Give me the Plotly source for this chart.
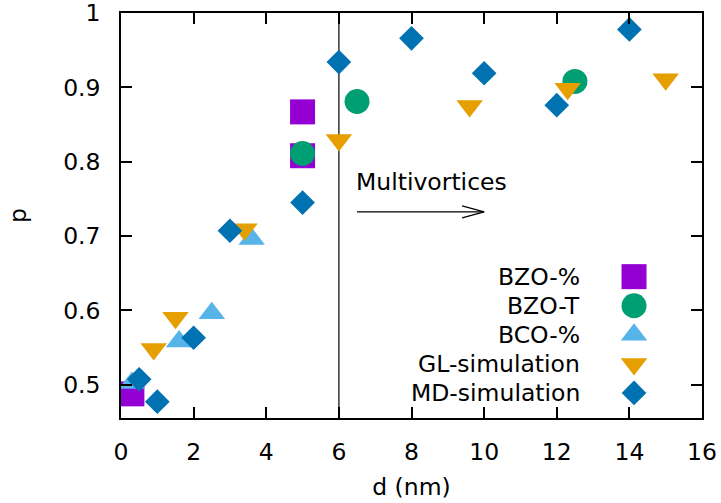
import plotly.graph_objects as go

# ---- data ----
bzo_pct_d = [0.3, 5.0, 5.0]
bzo_pct_p = [0.4875, 0.867, 0.808]

bzo_t_d = [5.0, 6.5, 12.5]
bzo_t_p = [0.811, 0.881, 0.908]

bco_pct_d = [0.3, 1.6, 2.5, 3.6]
bco_pct_p = [0.502, 0.558, 0.596, 0.696]

gl_d = [0.9, 1.5, 3.4, 6.0, 9.6, 12.3, 15.0]
gl_p = [0.548, 0.590, 0.709, 0.829, 0.875, 0.898, 0.911]

md_d = [0.5, 1.0, 2.0, 3.0, 5.0, 6.0, 8.0, 10.0, 12.0, 14.0]
md_p = [0.507, 0.477, 0.563, 0.707, 0.745, 0.934, 0.966, 0.919, 0.876, 0.978]

series_names = ["BZO-%", "BZO-T", "BCO-%", "GL-simulation", "MD-simulation"]
x_ticks = [0, 2, 4, 6, 8, 10, 12, 14, 16]
y_ticks = [0.5, 0.6, 0.7, 0.8, 0.9, 1.0]
y_tick_text = ["0.5", "0.6", "0.7", "0.8", "0.9", "1"]

threshold_d = 6.0
arrow_start_d, arrow_end_d, arrow_p = 6.5, 10.0, 0.7325
label_text = "Multivortices"
label_p = 0.772

# ---- styles ----
FONT = "DejaVu Sans"
FS = 23.5
styles = [
    dict(symbol="square", size=25, color="#9400d3"),
    dict(symbol="circle", size=25, color="#009e73"),
    dict(symbol="triangle-up", size=23, color="#56b4e9"),
    dict(symbol="triangle-down", size=23, color="#e69f00"),
    dict(symbol="diamond", size=19, color="#0072b2"),
]
data = [(bzo_pct_d, bzo_pct_p), (bzo_t_d, bzo_t_p), (bco_pct_d, bco_pct_p),
        (gl_d, gl_p), (md_d, md_p)]

fig = go.Figure()
for (xs, ys), name, st in zip(data, series_names, styles):
    fig.add_trace(go.Scatter(
        x=xs, y=ys, mode="markers", name=name, showlegend=False,
        marker=dict(symbol=st["symbol"], size=st["size"], color=st["color"],
                    line=dict(width=0)),
        cliponaxis=False,
    ))

# custom legend (text right-aligned, symbol on the right)
leg_text_x = 0.793
leg_mark_x = 0.883
leg_top = 0.349
leg_step = 0.0718
for i, (name, st) in enumerate(zip(series_names, styles)):
    yy = leg_top - i * leg_step
    fig.add_annotation(x=leg_text_x, y=yy, xref="paper", yref="paper",
                       text=name, showarrow=False, xanchor="right",
                       yanchor="middle", font=dict(family=FONT, size=FS, color="black"))
    fig.add_trace(go.Scatter(
        x=[leg_mark_x], y=[yy], xaxis="x2", yaxis="y2", mode="markers",
        showlegend=False, hoverinfo="skip",
        marker=dict(symbol=st["symbol"], size=st["size"], color=st["color"],
                    line=dict(width=0)),
        cliponaxis=False,
    ))

# vertical threshold line
fig.add_shape(type="line", xref="x", yref="paper", x0=threshold_d, x1=threshold_d,
              y0=0, y1=1, line=dict(color="#333333", width=1.5), layer="below")

# arrow shaft
fig.add_shape(type="line", xref="x", yref="y", x0=arrow_start_d, x1=arrow_end_d,
              y0=arrow_p, y1=arrow_p, line=dict(color="black", width=1.2))
# arrow head (open V)
for dy in (6, -6):
    fig.add_shape(type="line", xref="x", yref="y",
                  xsizemode="pixel", ysizemode="pixel",
                  xanchor=arrow_end_d, yanchor=arrow_p,
                  x0=0, x1=-22, y0=0, y1=dy,
                  line=dict(color="black", width=1.2))

fig.add_annotation(x=arrow_start_d, y=label_p, xref="x", yref="y", text=label_text,
                   showarrow=False, xanchor="left", yanchor="middle",
                   xshift=-3, font=dict(family=FONT, size=FS, color="black"))

axis_common = dict(
    showline=True, linecolor="black", linewidth=1.5, mirror="allticks",
    ticks="inside", ticklen=11, tickwidth=1.5, tickcolor="black",
    showgrid=False, zeroline=False, automargin=False,
    ticklabeloverflow="allow",
    tickfont=dict(family=FONT, size=FS, color="black"),
)

fig.update_layout(
    width=721, height=503,
    margin=dict(l=121, r=19, t=13, b=85),
    paper_bgcolor="white", plot_bgcolor="white",
    font=dict(family=FONT, size=FS, color="black"),
    xaxis=dict(range=[0, 16], tickvals=x_ticks, ticklabelstandoff=12,
               title=dict(text="d (nm)", font=dict(family=FONT, size=FS), standoff=14),
               **axis_common),
    yaxis=dict(range=[0.455, 1.0001], tickvals=y_ticks, ticktext=y_tick_text,
               ticklabelstandoff=14,
               title=dict(text="p", font=dict(family=FONT, size=FS), standoff=30),
               **axis_common),
    xaxis2=dict(overlaying="x", range=[0, 1], visible=False),
    yaxis2=dict(overlaying="y", range=[0, 1], visible=False),
    showlegend=False,
)

fig.write_html("out.html")
